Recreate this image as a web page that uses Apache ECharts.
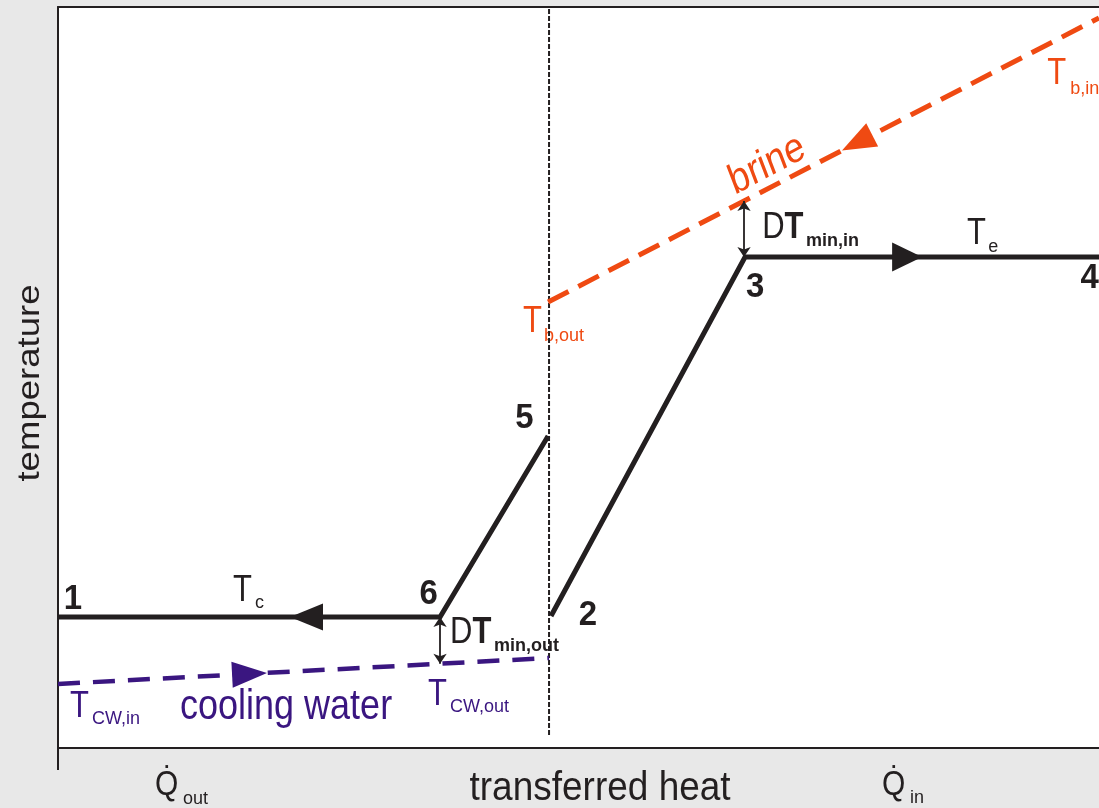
<!DOCTYPE html>
<html>
<head>
<meta charset="utf-8">
<script src="https://cdn.jsdelivr.net/npm/echarts@6/dist/echarts.min.js"></script>
<style>
  html, body { margin: 0; padding: 0; background: #e8e8e8; }
  #chart { width: 1099px; height: 808px; }
</style>
</head>
<body>
<div id="chart"></div>
<script>
// Refrigerant condensing path: 1 -> 6 -> 5
const condenserHeat = [0, 36.70, 47.08];
const condenserTemp = [17.68, 17.68, 42.11];
// Refrigerant evaporating path: 2 -> 3 -> 4
const evaporatorHeat = [47.36, 66.00, 100];
const evaporatorTemp = [17.81, 66.26, 66.26];
// Brine stream (T_b,out at the left end, T_b,in at the right end)
const brineHeat = [47.08, 100];
const brineTemp = [60.19, 98.52];
// Cooling water stream (T_CW,in at the left end, T_CW,out at the right end)
const coolingHeat = [0, 47.17];
const coolingTemp = [8.64, 12.15];
// Boundary between rejected and absorbed heat
const dividerHeat = [47.17, 47.17];
const dividerTemp = [1.75, 100];
// Flow-direction arrowheads: condenser, evaporator, brine, cooling water
const flowHeat = [23.87, 81.57, 76.76, 18.40];
const flowTemp = [17.68, 66.26, 81.69, 10.01];
// Minimum temperature differences: heat position, lower and upper temperature
const pinchNames = ['min,out', 'min,in'];
const pinchHeat = [36.70, 65.90];
const pinchLow = [11.37, 66.26];
const pinchHigh = [17.68, 73.82];
// State point numbers
const pointNames = ['1', '2', '3', '4', '5', '6'];

const INK = '#231f20';
const BRINE = '#ef4a12';
const WATER = '#3a1680';
const FONT = '"Liberation Sans", Arial, Helvetica, sans-serif';
const S = 1.18;          // main lettering is drawn taller than it is wide
const NATURAL = 1 / S;   // undoes the stretch for subscripts

const chart = echarts.init(document.getElementById('chart'), null, { renderer: 'canvas' });

const zip = (xs, ys) => xs.map((x, i) => [x, ys[i]]);

const flowStyles = [
  { rot: 90, size: [27, 33], color: INK },
  { rot: -90, size: [29, 30], color: INK },
  { rot: 117.3, size: [26, 34], color: BRINE },
  { rot: -87, size: [26, 35], color: WATER }
];

const hiddenAxisParts = {
  axisLabel: { show: false },
  splitLine: { show: false }
};

const option = {
  backgroundColor: '#e8e8e8',
  animation: false,
  grid: {
    left: 58, right: 0, top: 7, bottom: 60,
    show: true, backgroundColor: '#ffffff', borderWidth: 0
  },
  xAxis: [
    Object.assign({
      type: 'value', min: 0, max: 100, position: 'bottom',
      axisLine: { show: true, lineStyle: { color: INK, width: 2 } },
      axisTick: { show: true, customValues: [0], length: 22, inside: false,
        lineStyle: { color: INK, width: 2 } }
    }, hiddenAxisParts),
    Object.assign({
      type: 'value', min: 0, max: 100, position: 'top',
      axisLine: { show: true, lineStyle: { color: INK, width: 2 } },
      axisTick: { show: false }
    }, hiddenAxisParts)
  ],
  yAxis: Object.assign({
    type: 'value', min: 0, max: 100,
    axisLine: { show: true, lineStyle: { color: INK, width: 2 } },
    axisTick: { show: false }
  }, hiddenAxisParts),
  series: [
    {
      name: 'divider', type: 'line', data: zip(dividerHeat, dividerTemp),
      symbol: 'none', silent: true, z: 1,
      lineStyle: { color: INK, width: 2, type: [5, 2] }
    },
    {
      name: 'cooling water', type: 'line', data: zip(coolingHeat, coolingTemp),
      symbol: 'none', silent: true, z: 2,
      lineStyle: { color: WATER, width: 4.5, type: [22, 13], cap: 'butt' }
    },
    {
      name: 'brine', type: 'line', data: zip(brineHeat, brineTemp),
      symbol: 'none', silent: true, z: 2,
      lineStyle: { color: BRINE, width: 5, type: [23, 11], cap: 'butt' }
    },
    {
      name: 'condenser', type: 'line', data: zip(condenserHeat, condenserTemp),
      symbol: 'none', silent: true, z: 3,
      lineStyle: { color: INK, width: 5, join: 'miter', cap: 'butt' }
    },
    {
      name: 'evaporator', type: 'line', data: zip(evaporatorHeat, evaporatorTemp),
      symbol: 'none', silent: true, z: 3,
      lineStyle: { color: INK, width: 5, join: 'miter', cap: 'butt' }
    },
    {
      name: 'flow', type: 'scatter', silent: true, z: 4,
      symbol: 'triangle',
      data: flowHeat.map((x, i) => ({
        value: [x, flowTemp[i]],
        symbolRotate: flowStyles[i].rot,
        symbolSize: flowStyles[i].size,
        itemStyle: { color: flowStyles[i].color, opacity: 1 }
      }))
    },
    {
      name: 'pinch', type: 'lines', coordinateSystem: 'cartesian2d',
      silent: true, z: 4,
      symbol: ['arrow', 'arrow'], symbolSize: 10,
      lineStyle: { color: INK, width: 1.8, opacity: 1 },
      data: pinchHeat.map((x, i) => ({
        name: pinchNames[i],
        coords: [[x, pinchLow[i]], [x, pinchHigh[i]]]
      }))
    }
  ]
};
chart.setOption(option);

// ---- annotations, anchored in data coordinates ----
const px = pt => chart.convertToPixel({ gridIndex: 0 }, pt);

// text placed by the baseline of its glyphs; sy is an extra vertical scale
function baselineText(pt, text, color, size, opts) {
  opts = opts || {};
  const sy = opts.sy || 1;
  const p = px(pt);
  return {
    type: 'text', x: p[0], y: p[1] / S - 0.34 * size * sy, scaleY: sy,
    style: {
      text: text, fill: color,
      font: (opts.bold ? 'bold ' : 'normal ') + size + 'px ' + FONT,
      align: opts.align || 'left', verticalAlign: 'middle'
    }
  };
}

const subText = (pt, text, color, bold) =>
  baselineText(pt, text, color, 18, { sy: NATURAL, bold: !!bold });

// "D" followed by a bold "T"
function deltaT(pt, size) {
  const p = px(pt);
  return {
    type: 'text', x: p[0], y: p[1] / S - 0.34 * size,
    style: {
      text: '{d|D}{t|T}', fill: INK, align: 'left', verticalAlign: 'middle',
      font: 'normal ' + size + 'px ' + FONT,
      rich: {
        d: { fontSize: size, lineHeight: size, fontFamily: FONT, fill: INK },
        t: { fontSize: size, lineHeight: size, fontFamily: FONT, fill: INK, fontWeight: 'bold' }
      }
    }
  };
}

// text centred on its anchor, optionally rotated (radians, counter-clockwise)
function centredText(pt, text, color, size, rotation) {
  const p = px(pt);
  return {
    type: 'text', x: p[0], y: p[1] / S, rotation: rotation || 0,
    style: {
      text: text, fill: color, font: 'normal ' + size + 'px ' + FONT,
      align: 'center', verticalAlign: 'middle'
    }
  };
}

const pointAnchors = [
  [1.44, 18.49], [50.90, 16.33], [66.96, 60.59],
  [99.10, 61.81], [44.80, 42.91], [35.60, 19.16]
];

const children = pointNames.map((n, i) =>
  baselineText(pointAnchors[i], n, INK, 33, { bold: true, align: 'center', sy: 0.9 }));

children.push(
  // condensing / evaporating temperature
  baselineText([16.81, 19.57], 'T', INK, 31),
  subText([18.93, 18.76], 'c', INK),
  baselineText([87.33, 67.75], 'T', INK, 31),
  subText([89.35, 66.80], 'e', INK),
  // brine temperatures
  baselineText([95.02, 89.34], 'T', BRINE, 31),
  subText([97.23, 88.12], 'b,in', BRINE),
  baselineText([44.67, 55.87], 'T', BRINE, 31),
  subText([46.69, 54.79], 'b,out', BRINE),
  // cooling water temperatures
  baselineText([1.15, 3.91], 'T', WATER, 31),
  subText([3.27, 3.10], 'CW,in', WATER),
  baselineText([35.55, 5.53], 'T', WATER, 31),
  subText([37.66, 4.72], 'CW,out', WATER),
  // minimum temperature differences
  deltaT([37.66, 13.90], 31),
  subText([41.89, 12.96], pinchNames[0], INK, true),
  deltaT([67.64, 68.56], 31),
  subText([71.86, 67.61], pinchNames[1], INK, true),
  // stream names
  baselineText([11.72, 3.51], 'cooling water', WATER, 36),
  centredText([68.11, 78.68], 'brine', BRINE, 36, 24.3 * Math.PI / 180),
  // axis titles and heat flows
  centredText([-2.69, 49.26], 'temperature', INK, 31, Math.PI / 2),
  baselineText([52.07, -7.42], 'transferred heat', INK, 37, { align: 'center', sy: 0.92 }),
  baselineText([9.32, -6.61], 'Q\u0307', INK, 30),
  subText([12.01, -7.69], 'out', INK),
  baselineText([79.16, -6.61], 'Q\u0307', INK, 30),
  subText([81.85, -7.56], 'in', INK)
);

chart.setOption({
  graphic: [{
    type: 'group', x: 0, y: 0, scaleY: S, silent: true, z: 100,
    children: children
  }]
});
</script>
</body>
</html>
